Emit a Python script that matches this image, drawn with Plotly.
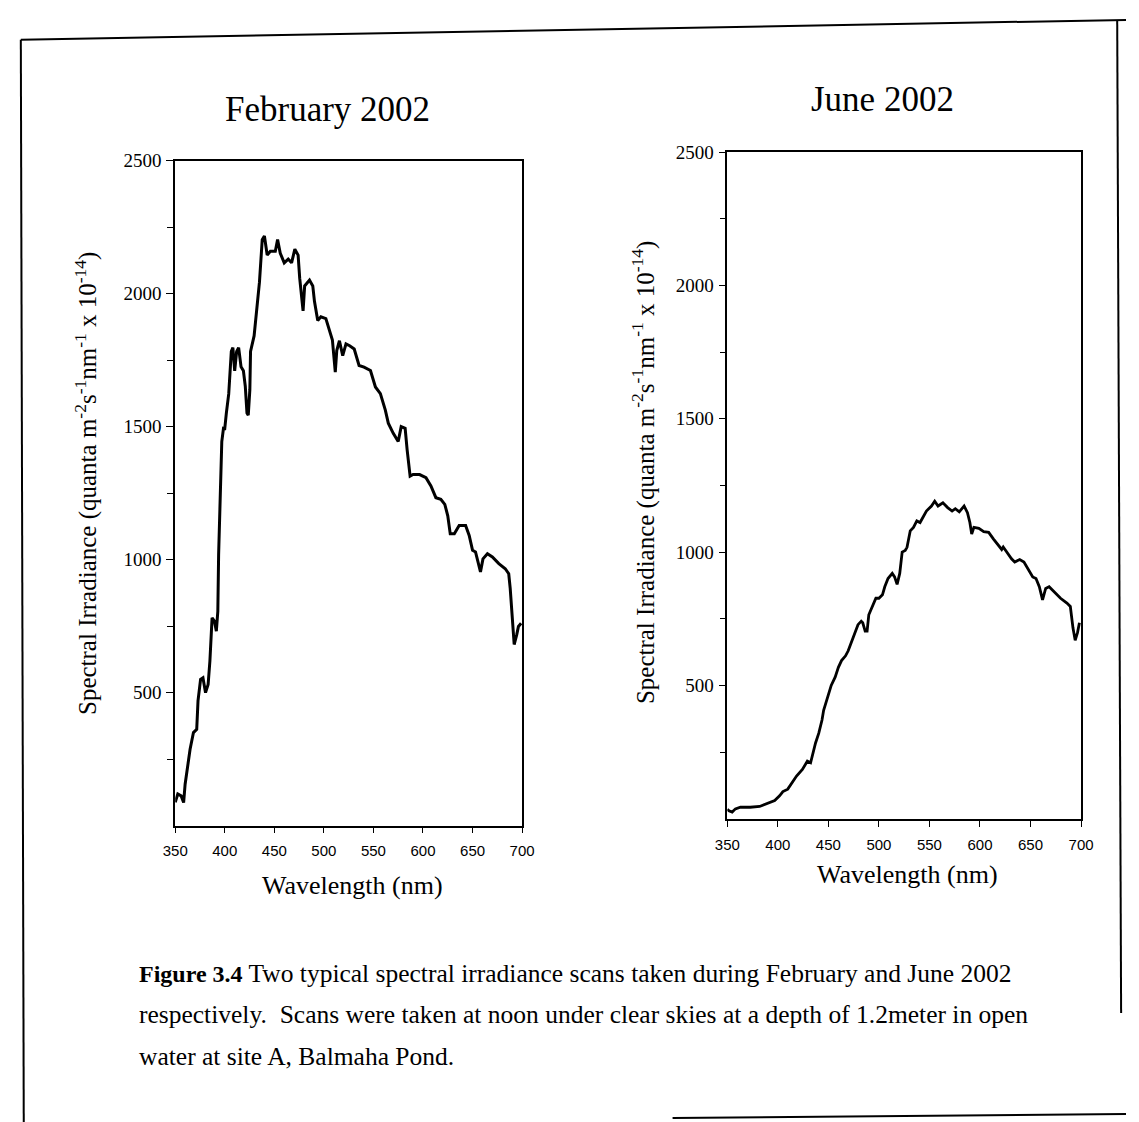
import plotly.graph_objects as go

# Spectral irradiance scans at 1.2 m depth, Balmaha Pond (site A)
feb_wavelength = [350, 352.6, 356, 358.5, 360, 362.5, 365, 368.4, 371.7, 373, 375.6, 378,
                  380.6, 383.2, 385, 387.2, 389.6, 391.5, 393, 393.8, 395.4, 397, 398.7,
                  400, 401.6, 404, 406.6, 408.2, 410, 412, 414, 416.4, 418.8, 420.7, 422.4,
                  423.7, 425.3, 426, 429.6, 431.3, 433.6, 435, 437.8, 440, 442.8, 446, 451,
                  453.3, 456, 460, 464, 467.4, 470.7, 474, 475.6, 477.3, 479, 480.6, 485.5,
                  488.8, 490.5, 493.8, 497, 502, 505.3, 508.6, 511.5, 513, 515.7, 519, 522.3,
                  526, 530.6, 535.5, 540.5, 547, 552, 557, 562, 565, 570, 575, 578, 582, 584,
                  587, 590, 596.6, 603, 608, 613, 618, 622, 625, 627.5, 631.6, 636.5, 643,
                  646.6, 650, 653, 658, 660.5, 665, 670, 676.5, 683, 686.5, 688, 689.6, 692,
                  694.6, 696.3, 699]
feb_irradiance = [88, 119, 112, 87, 156, 219, 287, 350, 362, 469, 550, 556,
                  500, 531, 619, 781, 769, 731, 806, 1019, 1269, 1444, 1494,
                  1493, 1551, 1623, 1783, 1797, 1710, 1783, 1797, 1725, 1710, 1652, 1551,
                  1543, 1638, 1783, 1841, 1913, 2000, 2043, 2203, 2217, 2145, 2159, 2159,
                  2203, 2152, 2116, 2130, 2116, 2167, 2145, 2058, 1993, 1935, 2029, 2051,
                  2029, 1971, 1899, 1913, 1906, 1870, 1826, 1705, 1786, 1823, 1767, 1811,
                  1804, 1792, 1730, 1724, 1711, 1649, 1624, 1562, 1513, 1475, 1444, 1500, 1494, 1413,
                  1314, 1320, 1320, 1308, 1277, 1233, 1227, 1208, 1165, 1097, 1097, 1128, 1128,
                  1091, 1035, 1029, 954, 1003, 1022, 1010, 985, 966, 947, 892, 805, 681,
                  718, 749, 761]

jun_wavelength = [350, 351.6, 354.8, 358, 363, 372.6, 382, 388.8, 396.9, 401.7, 405, 409.8,
                  414.6, 418.5, 424.3, 429.2, 432.4, 434.7, 437.3, 440.5, 443.7, 445.3, 448.6,
                  450, 452.8, 456.7, 459.9, 463, 467, 469.6, 473.5, 476, 479.3, 482.5, 484,
                  486.4, 488.3, 490, 493.8, 497, 500, 503.5, 505.8, 509, 513.2, 515.5, 518,
                  520.6, 523, 526, 527.8, 531, 534.2, 537.5, 540.7, 544, 547, 552, 555.2,
                  558.5, 563.3, 568, 572.4, 575.6, 579.5, 584.3, 587.6, 590, 591.8, 594,
                  598.9, 603.7, 608.6, 613.4, 618.3, 621.5, 623, 626.3, 631.2, 634.4, 639.3,
                  643.5, 647.3, 652.2, 655.4, 658.7, 661.9, 665, 668.4, 673.2, 679.7, 686,
                  689.4, 692, 694.2, 696.5, 698.4]
jun_irradiance = [36, 30, 25, 37, 43, 43, 46, 56, 68, 86, 102, 111,
                  136, 160, 185, 216, 210, 247, 284, 321, 370, 407, 451,
                  469, 500, 531, 568, 593, 611, 630, 667, 698, 728, 741, 735,
                  704, 704, 765, 796, 827, 827, 840, 870, 901, 920, 907, 879,
                  920, 1000, 1006, 1018, 1080, 1093, 1117, 1111, 1136, 1154, 1173, 1191,
                  1173, 1185, 1167, 1154, 1163, 1151, 1173, 1148, 1111, 1068, 1093,
                  1089, 1077, 1074, 1049, 1025, 1010, 1019, 1000, 975, 963, 972,
                  963, 938, 907, 901, 870, 821, 864, 870, 852, 827, 809,
                  796, 716, 669, 698, 735]

x_ticks = [350, 400, 450, 500, 550, 600, 650, 700]
y_major = [500, 1000, 1500, 2000, 2500]
y_minor = [250, 750, 1250, 1750, 2250]

W, H = 1139, 1122
SERIF = "Liberation Serif, Times New Roman, serif"
SANS = "Liberation Sans, Arial, sans-serif"


def px(x):
    return x / W


def py(y):
    return 1 - y / H


fig = go.Figure()
fig.add_trace(go.Scatter(x=feb_wavelength, y=feb_irradiance, mode="lines",
                         line=dict(color="black", width=3), xaxis="x", yaxis="y",
                         showlegend=False))
fig.add_trace(go.Scatter(x=jun_wavelength, y=jun_irradiance, mode="lines",
                         line=dict(color="black", width=2.8), xaxis="x2", yaxis="y2",
                         showlegend=False))

xax = dict(range=[350, 700], tickvals=x_ticks, ticks="outside", ticklen=6, tickwidth=1.3,
           tickcolor="black", showline=True, linecolor="black", linewidth=1.6, mirror=True,
           showgrid=False, zeroline=False, ticklabelstandoff=5,
           tickfont=dict(family=SANS, size=15, color="black"))
yax = dict(range=[0, 2500], tickvals=y_major, ticks="outside", ticklen=7, tickwidth=1.3,
           tickcolor="black", showline=True, linecolor="black", linewidth=1.6, mirror=True,
           showgrid=False, zeroline=False, ticklabelstandoff=1,
           minor=dict(tickvals=y_minor, ticks="outside", ticklen=6, tickwidth=1.3,
                      tickcolor="black"),
           tickfont=dict(family=SERIF, size=19, color="black"))

fig.update_layout(
    width=W, height=H, margin=dict(l=0, r=0, t=0, b=0),
    paper_bgcolor="white", plot_bgcolor="white",
    xaxis=dict(xax, domain=[px(166), px(521)], anchor="y"),
    yaxis=dict(yax, domain=[py(823), py(152)], anchor="x"),
    xaxis2=dict(xax, domain=[px(731), px(1093)], anchor="y2"),
    yaxis2=dict(yax, domain=[py(816), py(143.5)], anchor="x2"),
)

ytitle = "Spectral Irradiance (quanta m<sup>-2</sup>s<sup>-1</sup>nm<sup>-1</sup> x 10<sup>-14</sup>)"
notes = [
    dict(text="February 2002", x=px(322), y=py(100), size=35),
    dict(text="June 2002", x=px(890), y=py(90), size=35),
    dict(text="Wavelength (nm)", x=px(347), y=py(883), size=26),
    dict(text="Wavelength (nm)", x=px(915), y=py(872), size=26),
]
for n in notes:
    fig.add_annotation(text=n["text"], x=n["x"], y=n["y"], xref="paper", yref="paper",
                       showarrow=False, xanchor="center", yanchor="middle",
                       font=dict(family=SERIF, size=n["size"], color="black"))
for xc, yc in [(75, 478), (646, 467)]:
    fig.add_annotation(text=ytitle, x=px(xc), y=py(yc), xref="paper", yref="paper",
                       showarrow=False, textangle=-90, xanchor="center", yanchor="middle",
                       font=dict(family=SERIF, size=25, color="black"))

caption = [
    ("<span style='font-size:24px'><b>Figure 3.4</b></span> Two typical spectral irradiance "
     "scans taken during February and June 2002", 972),
    ("respectively.  Scans were taken at noon under clear skies at a depth of 1.2meter in open", 1014),
    ("water at site A, Balmaha Pond.", 1056),
]
for line, yc in caption:
    fig.add_annotation(text=line, x=px(127), y=py(yc), xref="paper", yref="paper",
                       showarrow=False, xanchor="left", yanchor="middle",
                       font=dict(family=SERIF, size=25.5, color="black"))

# page frame around the figure
frame = [((8, 30), (1139, 10)), ((8, 30), (11, 1122)), ((1130, 11), (1134, 1012)),
         ((675, 1118), (1139, 1114))]
for (x0, y0), (x1, y1) in frame:
    fig.add_shape(type="line", xref="paper", yref="paper", x0=px(x0), y0=py(y0),
                  x1=px(x1), y1=py(y1), line=dict(color="black", width=2))

fig.write_html("out.html")
